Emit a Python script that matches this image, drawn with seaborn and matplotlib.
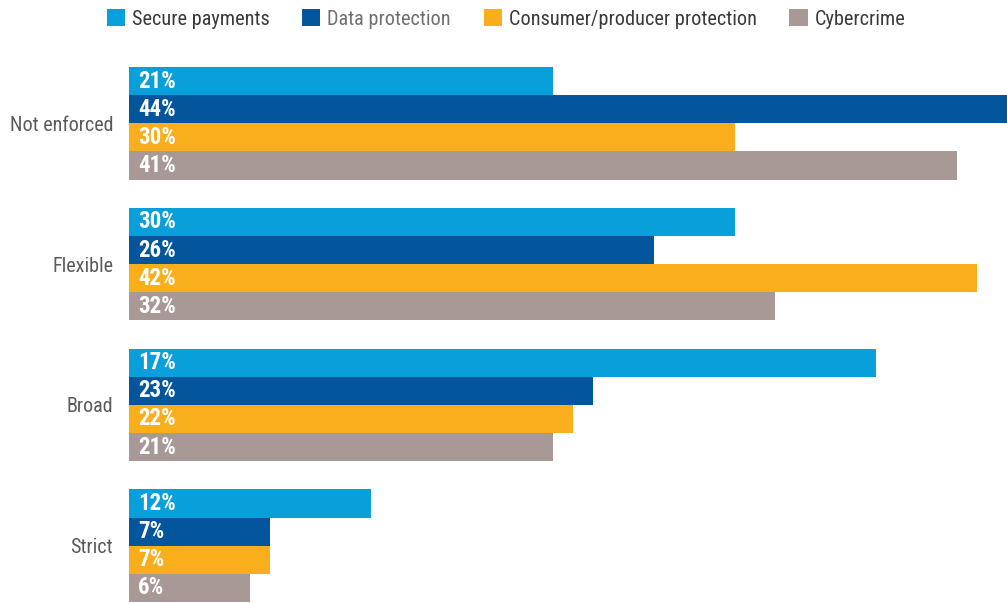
import matplotlib
matplotlib.use("Agg")
import matplotlib.pyplot as plt
from matplotlib.patches import Patch
import seaborn as sns
import pandas as pd

categories = ["Not enforced", "Flexible", "Broad", "Strict"]
series = ["Secure payments", "Data protection", "Consumer/producer protection", "Cybercrime"]
secure_payments = [21, 30, 37, 12]
data_protection = [44, 26, 23, 7]
consumer_protection = [30, 42, 22, 7]
cybercrime = [41, 32, 21, 6]
secure_payments_labels = ["21%", "30%", "17%", "12%"]
data_protection_labels = ["44%", "26%", "23%", "7%"]
consumer_protection_labels = ["30%", "42%", "22%", "7%"]
cybercrime_labels = ["41%", "32%", "21%", "6%"]
colors = ["#089fdb", "#03559c", "#f9ae1b", "#a89997"]

values = [secure_payments, data_protection, consumer_protection, cybercrime]
labels = [secure_payments_labels, data_protection_labels, consumer_protection_labels, cybercrime_labels]

rows = []
for s, vals in zip(series, values):
    for c, v in zip(categories, vals):
        rows.append({"category": c, "series": s, "value": v})
df = pd.DataFrame(rows)

sns.set_theme(style="white")
FONT = ["Roboto Condensed", "Roboto", "DejaVu Sans"]
plt.rcParams["font.family"] = FONT

fig = plt.figure(figsize=(10.07, 6.03), dpi=100)
ax = fig.add_axes([129 / 1007, 1 / 603, 1 - 129 / 1007, (602 - 67) / 603])

sns.barplot(data=df, y="category", x="value", hue="series", order=categories,
            hue_order=series, palette=colors, orient="h", width=0.8,
            saturation=1, ax=ax, legend=False, linewidth=0)

ax.set_xlim(0, 43.5)
ax.set_ylim(3.4, -0.4)
ax.set_xlabel("")
ax.set_ylabel("")
ax.set_xticks([])
for sp in ax.spines.values():
    sp.set_visible(False)
ax.tick_params(axis="y", length=0, pad=11.5, labelsize=14.5, labelcolor="#5a5a5a")

for cont, labs in zip(ax.containers, labels):
    for patch, lab in zip(cont.patches, labs):
        y = patch.get_y() + patch.get_height() / 2
        ax.text(0.45, y, lab, ha="left", va="center", color="white",
                fontsize=16.5, fontweight="bold", family=FONT)

handles = [Patch(facecolor=c, edgecolor="none") for c in colors]
leg = fig.legend(handles, series, loc="center", bbox_to_anchor=(506 / 1007, 1 - 19 / 603),
                 ncol=4, frameon=False, fontsize=14.6, handlelength=0.9, handleheight=0.9,
                 handletextpad=0.35, columnspacing=1.6, borderaxespad=0)
for t, c in zip(leg.get_texts(), ["#3a3a3a", "#707070", "#3a3a3a", "#3a3a3a"]):
    t.set_color(c)

fig.savefig("out.png", dpi=100)
